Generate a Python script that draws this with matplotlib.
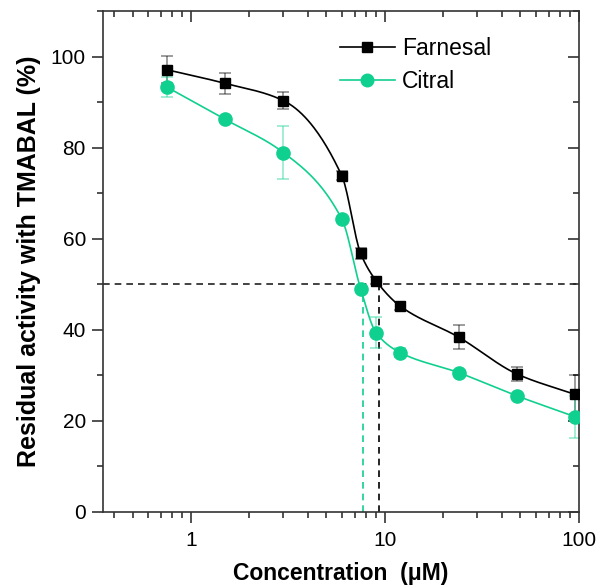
import numpy as np
import matplotlib
matplotlib.use("Agg")
import matplotlib.pyplot as plt
from matplotlib.ticker import LogLocator, MultipleLocator, NullFormatter, FixedLocator, FixedFormatter

plt.rcParams['font.family'] = ['Liberation Sans', 'DejaVu Sans']

# Data
conc = [0.75, 1.5, 3, 6, 7.5, 9, 12, 24, 48, 96]
farnesal = [97.1, 94.1, 90.3, 73.8, 56.8, 50.8, 45.2, 38.4, 30.3, 25.8]
farnesal_err = [3.0, 2.3, 1.8, 1.0, 1.2, 0.8, 0.8, 2.7, 1.6, 4.3]
citral = [93.3, 86.2, 78.9, 64.3, 49.0, 39.4, 35.0, 30.6, 25.5, 20.9]
citral_err = [2.2, 0.5, 5.9, 0.5, 0.5, 3.5, 1.0, 0.5, 0.5, 4.6]
ic50_farnesal = 9.3
ic50_citral = 7.75

BLACK = '#000000'
GREEN = '#10d08f'


def pchip(x, y, xn):
    # monotone cubic through the points (for a smooth connecting line)
    x = np.asarray(x, float); y = np.asarray(y, float)
    h = np.diff(x); d = np.diff(y) / h
    m = np.zeros_like(y)
    for k in range(1, len(x) - 1):
        if d[k - 1] * d[k] > 0:
            w1 = 2 * h[k] + h[k - 1]; w2 = h[k] + 2 * h[k - 1]
            m[k] = (w1 + w2) / (w1 / d[k - 1] + w2 / d[k])
    m[0] = d[0]; m[-1] = d[-1]
    idx = np.clip(np.searchsorted(x, xn) - 1, 0, len(x) - 2)
    t = (xn - x[idx]) / h[idx]
    h00 = 2 * t**3 - 3 * t**2 + 1; h10 = t**3 - 2 * t**2 + t
    h01 = -2 * t**3 + 3 * t**2; h11 = t**3 - t**2
    return h00 * y[idx] + h10 * h[idx] * m[idx] + h01 * y[idx + 1] + h11 * h[idx] * m[idx + 1]


fig = plt.figure(figsize=(6.0, 5.86), dpi=100)
ax = fig.add_axes([0.171, 0.1263, 0.7935, 0.855])

lx = np.log10(conc)
xs = np.linspace(lx[0], lx[-1], 400)

for yv, err, col, mk, ms, lab, ic in [
        (farnesal, farnesal_err, BLACK, 's', 7.5, 'Farnesal', ic50_farnesal),
        (citral, citral_err, GREEN, 'o', 9.5, 'Citral', ic50_citral)]:
    ax.errorbar(conc, yv, yerr=err, fmt='none', ecolor=col, alpha=0.45,
                elinewidth=1.2, capsize=4, capthick=1.2, zorder=2)
    ax.plot(10**xs, pchip(lx, yv, xs), color=col, lw=1.2, zorder=3)
    ax.plot(conc, yv, mk, color=col, ms=ms, mec=col, zorder=4)
    ax.plot([], [], color=col, marker=mk, ms=ms * 0.95, lw=1.2, label=lab)
    ax.plot([ic, ic], [0, 50], ls=(0, (4, 3)), color=col, lw=1.2, zorder=1)

ax.axhline(50, ls=(0, (4, 3)), color='#222222', lw=1.2, zorder=1)

ax.set_xscale('log')
ax.set_xlim(0.35, 100)
ax.set_ylim(0, 110)
ax.xaxis.set_major_locator(FixedLocator([1, 10, 100]))
ax.xaxis.set_major_formatter(FixedFormatter(['1', '10', '100']))
ax.xaxis.set_minor_locator(LogLocator(base=10, subs=np.arange(2, 10)))
ax.xaxis.set_minor_formatter(NullFormatter())
ax.yaxis.set_major_locator(MultipleLocator(20))
ax.yaxis.set_minor_locator(MultipleLocator(10))

for s in ax.spines.values():
    s.set_linewidth(1.2)
    s.set_color('#333333')

ax.tick_params(which='both', direction='out', labelsize=15, width=1.2, color='#333333')
ax.tick_params(which='major', length=8, pad=4)
ax.tick_params(which='minor', length=4)
ax.tick_params(axis='x', which='major', pad=6)

# mirrored inward ticks on top and right
axt = ax.secondary_xaxis('top')
axt.set_xticks([1, 10, 100])
axt.xaxis.set_minor_locator(LogLocator(base=10, subs=np.arange(2, 10)))
axt.tick_params(which='both', direction='in', labeltop=False, width=1.2, color='#333333')
axt.tick_params(which='major', length=8)
axt.tick_params(which='minor', length=4)
axt.set_xticklabels([])
axt.spines['top'].set_visible(False)
axr = ax.secondary_yaxis('right')
axr.yaxis.set_major_locator(MultipleLocator(20))
axr.yaxis.set_minor_locator(MultipleLocator(10))
axr.tick_params(which='both', direction='in', labelright=False, width=1.2, color='#333333')
axr.tick_params(which='major', length=8)
axr.tick_params(which='minor', length=4)
axr.spines['right'].set_visible(False)

ax.set_xlabel('Concentration  (\u03bcM)', fontsize=16.5, fontweight='bold', labelpad=8)
ax.set_ylabel('Residual activity with TMABAL (%)', fontsize=18, fontweight='bold', labelpad=7)

ax.legend(loc='upper left', bbox_to_anchor=(0.455, 0.99), frameon=False, fontsize=16.5,
          handlelength=2.4, handletextpad=0.3, labelspacing=0.45)

fig.savefig('out.png', dpi=100)
